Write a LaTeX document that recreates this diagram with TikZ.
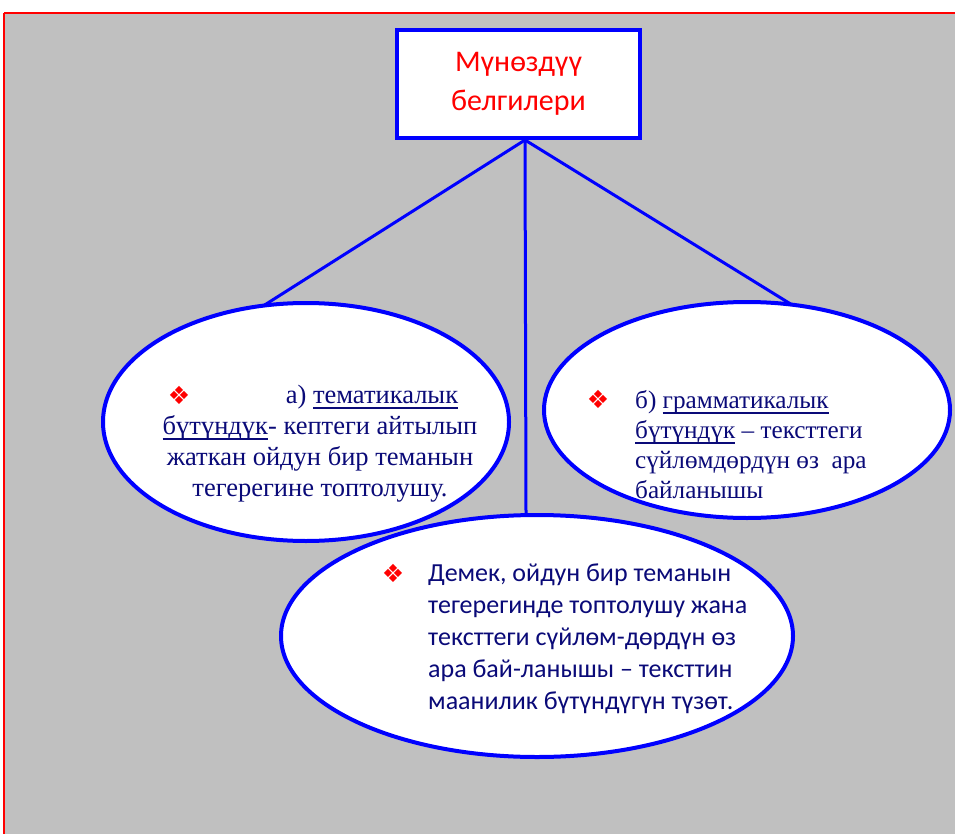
\documentclass[tikz,border=0pt]{standalone}
\usepackage{fontspec}
\setmainfont{Liberation Serif}
\newfontfamily\calib{Carlito}
\newfontfamily\djv{DejaVu Sans}
\usetikzlibrary{shapes.geometric}
\definecolor{panelgrey}{RGB}{192,192,192}
\definecolor{edgeblue}{RGB}{0,0,255}
\definecolor{inknavy}{RGB}{10,10,120}
\definecolor{titlered}{RGB}{255,0,0}
% underline drawn as a rule just under the baseline, without adding depth
\newlength\ulwlen
\newcommand\ulw[1]{\settowidth\ulwlen{#1}\rlap{\smash{\rule[-5.5pt]{\ulwlen}{2pt}}}#1}
\tikzset{
  oval/.style={ellipse, draw=edgeblue, line width=4pt, fill=white, inner sep=0pt, outer sep=0pt},
  link/.style={draw=edgeblue, line width=3pt},
  bulletmark/.style={text=titlered, font=\djv\fontsize{25}{25}\selectfont, inner sep=0pt},
  serifbody/.style={text=inknavy, inner sep=0pt},
  sansbody/.style={text=inknavy, font=\calib\fontsize{26}{32}\selectfont, inner sep=0pt},
}
\begin{document}
\begin{tikzpicture}[x=1pt,y=-1pt]
\useasboundingbox (0,0) rectangle (955,834);
% panel and frame
\fill[panelgrey] (5,14) rectangle (965,845);
\draw[titlered, line width=2pt] (4,13) -- (965,13);
\draw[titlered, line width=2pt] (4,13) -- (4,845);

% heading box
\node (head) [draw=edgeblue, line width=4pt, fill=white, minimum width=243pt, minimum height=108pt, inner sep=0pt,
  text=titlered, font=\calib\fontsize{30}{39}\selectfont, align=center] at (518.5,84) {Мүнөздүү\\белгилери};
\coordinate (hub) at (525,140);

% ovals
\node (ovA) [oval, minimum width=406pt, minimum height=238pt] at (306,422) {};
\node (ovB) [oval, minimum width=406pt, minimum height=216pt] at (747,410) {};

% connectors
\draw[link] (hub) -- (ovA.110.6);
\draw[link] (hub) -- (ovB.67);
\coordinate (vend) at (526,513);
\draw[link] (hub) -- (vend);

\node (ovC) [oval, minimum width=512pt, minimum height=242pt] at (537,636) {};

% texts
\node (bA) [bulletmark] at (179,395) {❖};
\node (tA) [serifbody, font=\fontsize{26.5}{31}\selectfont, align=center] at (320,444)
  {\hspace*{104pt}а) \ulw{тематикалык}\\
   \ulw{бүтүндүк}- кептеги айтылып\\
   жаткан ойдун бир теманын\\
   тегерегине топтолушу.};

\node (bB) [bulletmark] at (598,399) {❖};
\node (tB) [serifbody, font=\fontsize{25.2}{30}\selectfont, align=left, anchor=west] at (635,445)
  {б) \ulw{грамматикалык}\\
   \ulw{бүтүндүк} – тексттеги\\
   сүйлөмдөрдүн өз~ ара\\
   байланышы};

\node (bC) [bulletmark] at (393,573) {❖};
\node (tC) [sansbody, align=left, anchor=west] at (428,639)
  {Демек, ойдун бир теманын\\
   тегерегинде топтолушу жана\\
   тексттеги сүйлөм-дөрдүн өз\\
   ара бай-ланышы – тексттин\\
   маанилик бүтүндүгүн түзөт.};
\end{tikzpicture}
\end{document}
